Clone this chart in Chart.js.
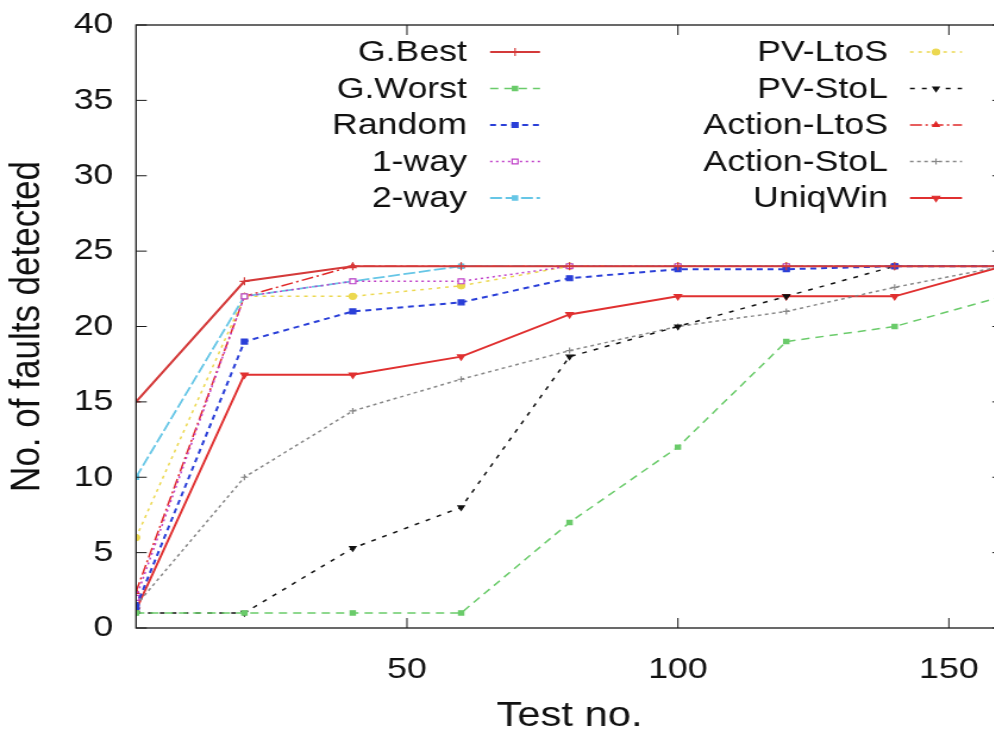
<!DOCTYPE html>
<html>
<head>
<meta charset="utf-8">
<script src="https://cdn.jsdelivr.net/npm/chart.js@4.4.1/dist/chart.umd.min.js"></script>
<style>
html, body { margin: 0; padding: 0; background: #fff; overflow: hidden; width: 994px; height: 734px; }
/* the reference is stretched sideways, so draw narrower and widen with css */
#wrap { position: absolute; left: 0; top: 0; width: 850px; height: 734px; transform: scaleX(1.19); transform-origin: 0 0; }
</style>
</head>
<body>
<div id="wrap"><canvas id="faultChart" width="850" height="734"></canvas></div>
<script>
const testNo = [0, 20, 40, 60, 80, 100, 120, 140, 160];
const xTicks = [50, 100, 150];

const gBest      = [15, 23, 24, 24, 24, 24, 24, 24, 24];
const gWorst     = [1, 1, 1, 1, 7, 12, 19, 20, 22];
const random     = [1.4, 19, 21, 21.6, 23.2, 23.8, 23.8, 24, 24];
const oneWay     = [2, 22, 23, 23, 24, 24, 24, 24, 24];
const twoWay     = [10, 22, 23, 24, 24, 24, 24, 24, 24];
const pvLtoS     = [6, 22, 22, 22.7, 24, 24, 24, 24, 24];
const pvStoL     = [1, 1, 5.3, 8, 18, 20, 22, 24, 24];
const actionLtoS = [2.4, 22, 24, 24, 24, 24, 24, 24, 24];
const actionStoL = [1.5, 10, 14.4, 16.5, 18.4, 20, 21, 22.6, 24];
const uniqWin    = [1.2, 16.8, 16.8, 18, 20.8, 22, 22, 22, 24];

const FONT = "'Liberation Sans', Arial, Helvetica, sans-serif";

function series(label, values, color, width, dash, style, radius, rotation, fill) {
    return {
        label: label,
        data: values.map((v, i) => ({ x: testNo[i], y: v })),
        borderColor: color,
        borderWidth: width,
        borderDash: dash,
        pointStyle: style,
        pointRadius: radius,
        pointRotation: rotation || 0,
        pointBorderColor: color,
        pointBackgroundColor: fill || color,
        pointBorderWidth: 1.2,
        fill: false,
        tension: 0
    };
}

const datasets = [
    series('G.Best', gBest, '#d43a3a', 2, [], 'cross', 4),
    series('G.Worst', gWorst, '#6acb6a', 1.5, [7, 5], 'rect', 3),
    series('Random', random, '#2a3fd8', 2, [5, 4], 'rect', 3.5),
    series('1-way', oneWay, '#c040c8', 1.5, [2, 3], 'rect', 3.5, 0, '#ffffff'),
    series('2-way', twoWay, '#66c6e6', 1.8, [10, 3], 'rect', 3),
    series('PV-LtoS', pvLtoS, '#ecd850', 1.5, [3, 4], 'circle', 3),
    series('PV-StoL', pvStoL, '#111111', 1.5, [4, 6], 'triangle', 3, 180),
    series('Action-LtoS', actionLtoS, '#e02828', 1.5, [10, 3, 2, 3], 'triangle', 3),
    series('Action-StoL', actionStoL, '#888888', 1.5, [3, 3], 'cross', 3),
    series('UniqWin', uniqWin, '#e03030', 2, [], 'triangle', 3.5, 180)
];

// border box with inward ticks on all four sides, like gnuplot
const framePlugin = {
    id: 'frame',
    afterDatasetsDraw(chart) {
        const { ctx, chartArea: a, scales } = chart;
        const line = (x1, y1, x2, y2) => { ctx.beginPath(); ctx.moveTo(x1, y1); ctx.lineTo(x2, y2); ctx.stroke(); };
        ctx.save();
        ctx.strokeStyle = '#1a1a1a';
        ctx.lineWidth = 1.3;
        ctx.setLineDash([]);
        ctx.strokeRect(a.left, a.top, a.right - a.left, a.bottom - a.top);
        ctx.lineWidth = 1;
        scales.y.ticks.forEach(t => {
            const py = scales.y.getPixelForValue(t.value);
            line(a.left, py, a.left + 9, py);
            line(a.right - 9, py, a.right, py);
        });
        scales.x.ticks.forEach(t => {
            const px = scales.x.getPixelForValue(t.value);
            line(px, a.bottom, px, a.bottom - 10);
            line(px, a.top, px, a.top + 10);
        });
        ctx.restore();
    }
};

// key in two columns: label right aligned, sample line to its right
const keyPlugin = {
    id: 'gnuKey',
    afterDraw(chart) {
        const ctx = chart.ctx;
        const textRight = [392.4, 746.2];
        const sample = [[411.8, 453.8], [764.7, 808.4]];
        const rows = [52, 88.5, 125, 161.5, 198];
        ctx.save();
        chart.data.datasets.forEach((ds, i) => {
            const col = i < 5 ? 0 : 1;
            const y = rows[i % 5];
            ctx.font = '30px ' + FONT;
            ctx.fillStyle = '#111';
            ctx.textAlign = 'right';
            ctx.textBaseline = 'middle';
            ctx.fillText(ds.label, textRight[col], y + 1);
            ctx.strokeStyle = ds.borderColor;
            ctx.lineWidth = ds.borderWidth;
            ctx.setLineDash(ds.borderDash);
            ctx.beginPath();
            ctx.moveTo(sample[col][0], y);
            ctx.lineTo(sample[col][1], y);
            ctx.stroke();
            ctx.setLineDash([]);
            ctx.fillStyle = ds.pointBackgroundColor;
            ctx.lineWidth = ds.pointBorderWidth;
            Chart.helpers.drawPoint(ctx, {
                pointStyle: ds.pointStyle,
                radius: ds.pointRadius,
                rotation: ds.pointRotation,
                borderWidth: ds.pointBorderWidth
            }, (sample[col][0] + sample[col][1]) / 2, y);
        });
        ctx.restore();
    }
};

const ctx = document.getElementById('faultChart').getContext('2d');
new Chart(ctx, {
    type: 'line',
    data: { datasets: datasets },
    plugins: [framePlugin, keyPlugin],
    options: {
        responsive: false,
        animation: false,
        // y tick labels ask for 20px on top (half label + padding), so 25 wins
        layout: { padding: { top: 25, right: 7.1, left: 0, bottom: 0 } },
        plugins: { legend: { display: false }, tooltip: { enabled: false } },
        scales: {
            x: {
                type: 'linear',
                min: 0,
                max: 160,
                afterBuildTicks: scale => { scale.ticks = xTicks.map(v => ({ value: v })); },
                afterFit: scale => { scale.height = 106; },
                grid: { display: false },
                border: { display: false },
                ticks: { color: '#111', padding: 16, font: { family: FONT, size: 30 } },
                title: {
                    display: true,
                    text: 'Test no.',
                    color: '#111',
                    padding: { top: 0, bottom: 0 },
                    font: { family: FONT, size: 35, lineHeight: 1.0 }
                }
            },
            y: {
                min: 0,
                max: 40,
                afterFit: scale => { scale.width = 114.3; },
                grid: { display: false },
                border: { display: false },
                ticks: { stepSize: 5, color: '#111', padding: 11, font: { family: FONT, size: 30, lineHeight: 0.6 } },
                title: {
                    display: true,
                    text: 'No. of faults detected',
                    color: '#111',
                    padding: { top: 2.5, bottom: 0 },
                    font: { family: FONT, size: 35, lineHeight: 1.2 }
                }
            }
        }
    }
});
</script>
</body>
</html>
